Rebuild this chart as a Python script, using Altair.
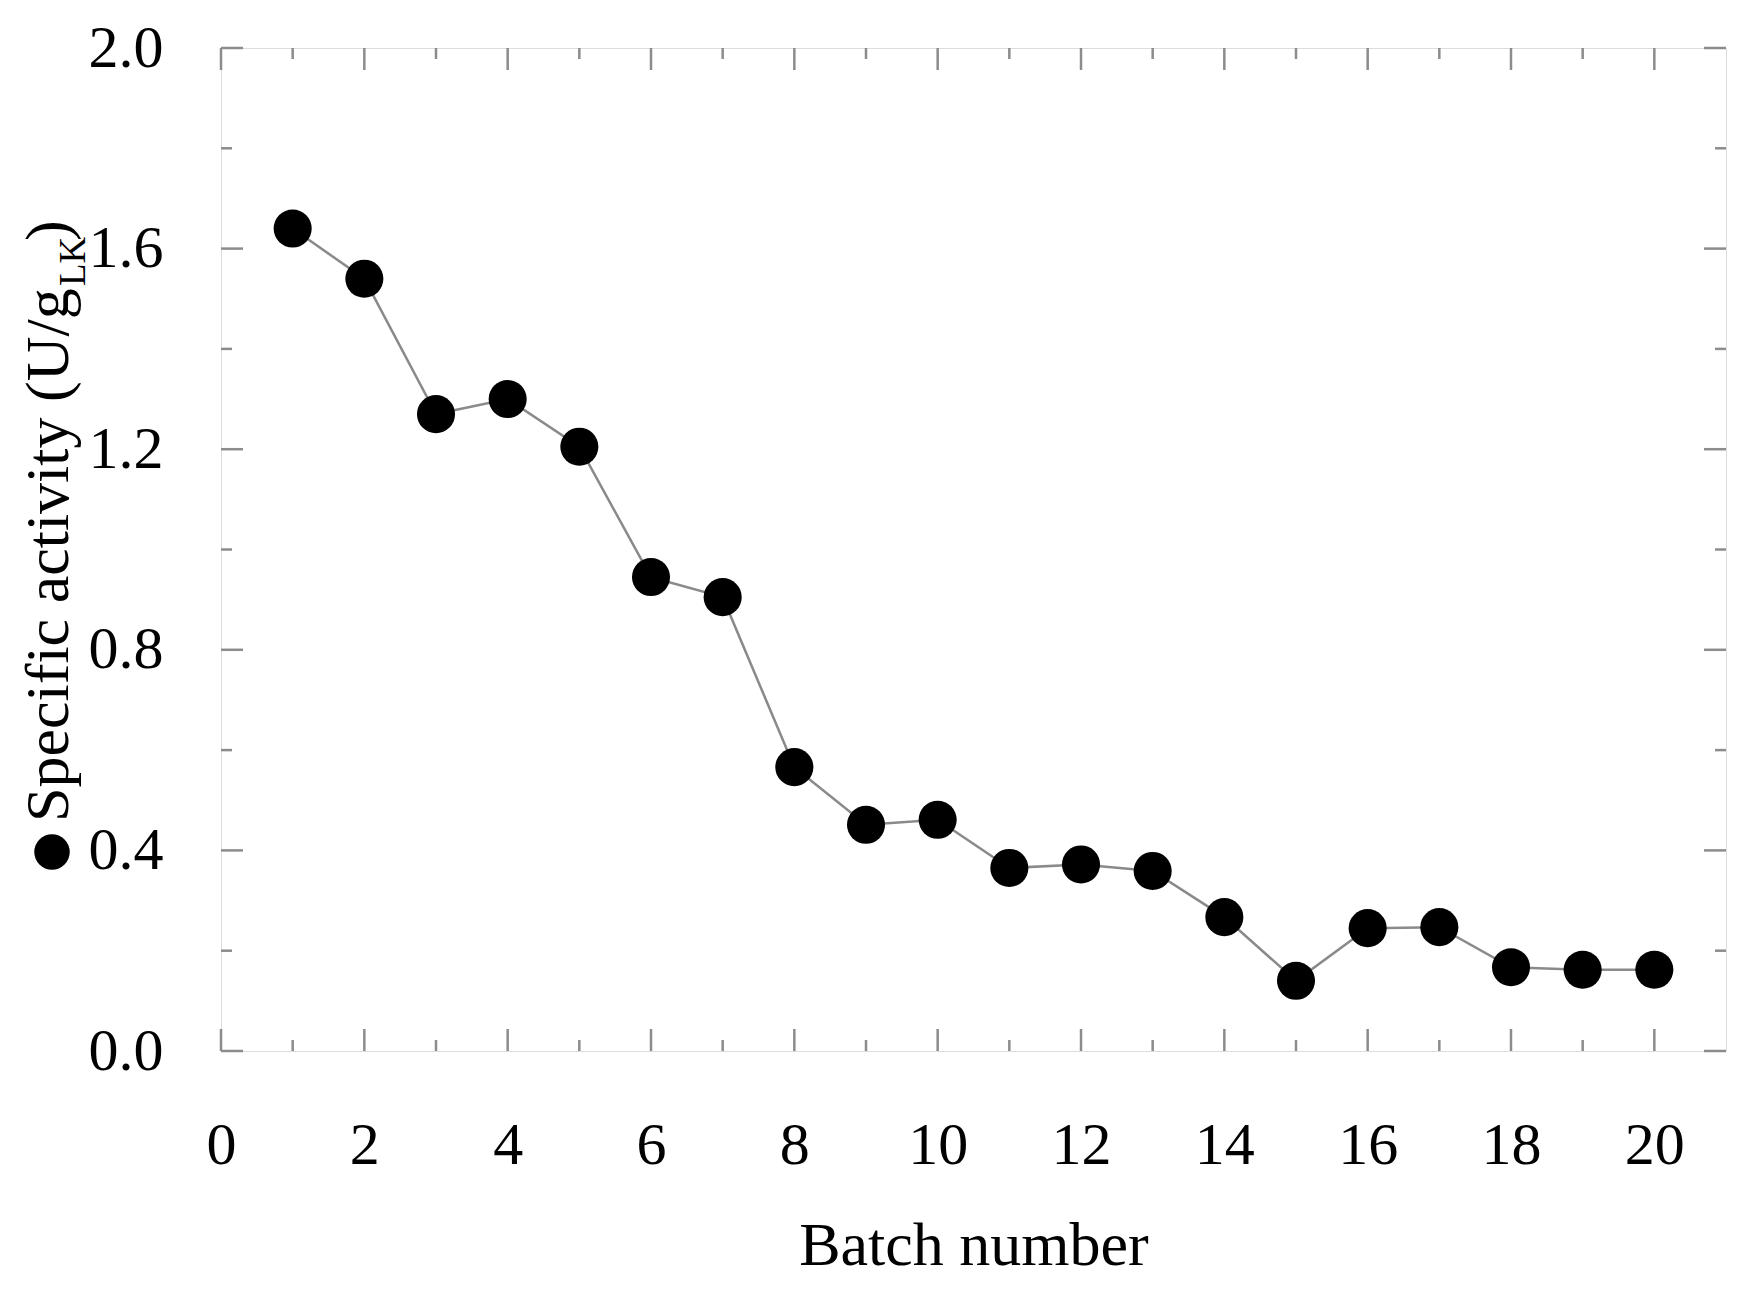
import altair as alt
import pandas as pd

# ---- data ----
batch = list(range(1, 21))
activity = [1.64, 1.54, 1.27, 1.30, 1.205, 0.945, 0.905, 0.566, 0.451, 0.461,
            0.365, 0.372, 0.359, 0.267, 0.140, 0.245, 0.247, 0.167, 0.162, 0.162]

x_major = [0, 2, 4, 6, 8, 10, 12, 14, 16, 18, 20]
x_minor = [1, 3, 5, 7, 9, 11, 13, 15, 17, 19]
y_major = [0.0, 0.4, 0.8, 1.2, 1.6, 2.0]
y_minor = [0.2, 0.6, 1.0, 1.4, 1.8]

x_title = "Batch number"
y_title_main = ["Specific activity (U/g"]
y_title_sub = ["LK"]
y_title_end = [")"]

W, H = 1505, 1003
FONT = "Liberation Serif"
GRAY = "#8c8c8c"
MAJ, MIN = 22, 11

df = pd.DataFrame({"batch": batch, "activity": activity})

xs = alt.Scale(domain=[0, 21], nice=False, zero=False)
ys = alt.Scale(domain=[0, 2.0], nice=False, zero=False)

x_label_axis = alt.Axis(orient="bottom", values=x_major, format="d", ticks=False, tickSize=0,
                        domain=False, grid=False, labelFont=FONT, labelFontSize=60,
                        labelColor="black", labelPadding=112, labelBaseline="alphabetic",
                        labelFlush=False, labelOverlap=False,
                        title=x_title, titleFont=FONT, titleFontSize=62,
                        titleFontWeight="normal", titleColor="black",
                        titleY=213, titleBaseline="alphabetic")
y_label_axis = alt.Axis(orient="left", values=y_major, format=".1f", ticks=False, tickSize=0,
                        domain=False, grid=False, labelFont=FONT, labelFontSize=60,
                        labelColor="black", labelPadding=58, labelBaseline="middle",
                        labelFlush=False, labelOverlap=False, title=None)

base = alt.Chart(df)

line = base.mark_line(color="#8a8a8a", strokeWidth=2.5).encode(
    x=alt.X("batch:Q", scale=xs, axis=x_label_axis),
    y=alt.Y("activity:Q", scale=ys, axis=y_label_axis),
)

points = base.mark_circle(size=1450, color="black", opacity=1).encode(
    x=alt.X("batch:Q", scale=xs),
    y=alt.Y("activity:Q", scale=ys),
)


# inward ticks on all four sides, placed through the shared scales
def xticks(values, length):
    d = alt.Chart(pd.DataFrame({"v": values}))
    m = dict(color=GRAY, strokeWidth=2.5)
    bottom = d.mark_rule(**m).encode(x=alt.X("v:Q", scale=xs),
                                     y=alt.value(H), y2=alt.value(H - length))
    top = d.mark_rule(**m).encode(x=alt.X("v:Q", scale=xs),
                                  y=alt.value(0), y2=alt.value(length))
    return [bottom, top]


def yticks(values, length):
    d = alt.Chart(pd.DataFrame({"v": values}))
    m = dict(color=GRAY, strokeWidth=2.5)
    left = d.mark_rule(**m).encode(y=alt.Y("v:Q", scale=ys),
                                   x=alt.value(0), x2=alt.value(length))
    right = d.mark_rule(**m).encode(y=alt.Y("v:Q", scale=ys),
                                    x=alt.value(W), x2=alt.value(W - length))
    return [left, right]


tick_layers = xticks(x_major, MAJ) + xticks(x_minor, MIN) + yticks(y_major, MAJ) + yticks(y_minor, MIN)

# y-axis title built from pieces (with subscript) and the marker symbol
sym = alt.Chart(pd.DataFrame({"s": ["●"]})).mark_point(
    filled=True, shape="circle", size=1260, color="black", opacity=1
).encode(x=alt.value(-169), y=alt.value(804))

title_main = alt.Chart(pd.DataFrame({"t": y_title_main})).mark_text(
    font=FONT, fontSize=62, angle=270, align="left", baseline="alphabetic", color="black"
).encode(text="t:N", x=alt.value(-153), y=alt.value(774))

title_sub = alt.Chart(pd.DataFrame({"t": y_title_sub})).mark_text(
    font=FONT, fontSize=37, angle=270, align="left", baseline="alphabetic", color="black"
).encode(text="t:N", x=alt.value(-136), y=alt.value(238))

title_end = alt.Chart(pd.DataFrame({"t": y_title_end})).mark_text(
    font=FONT, fontSize=62, angle=270, align="left", baseline="alphabetic", color="black"
).encode(text="t:N", x=alt.value(-153), y=alt.value(193))

chart = alt.layer(
    line, points, *tick_layers, sym, title_main, title_sub, title_end
).properties(
    width=W, height=H,
    autosize=alt.AutoSizeParams(type="none"),
    padding={"left": 213, "top": 40, "right": 23, "bottom": 234},
).configure_view(
    stroke=GRAY, strokeWidth=3
).configure(background="white")

chart.save("out.html", embed_options={"renderer": "svg", "actions": False})
